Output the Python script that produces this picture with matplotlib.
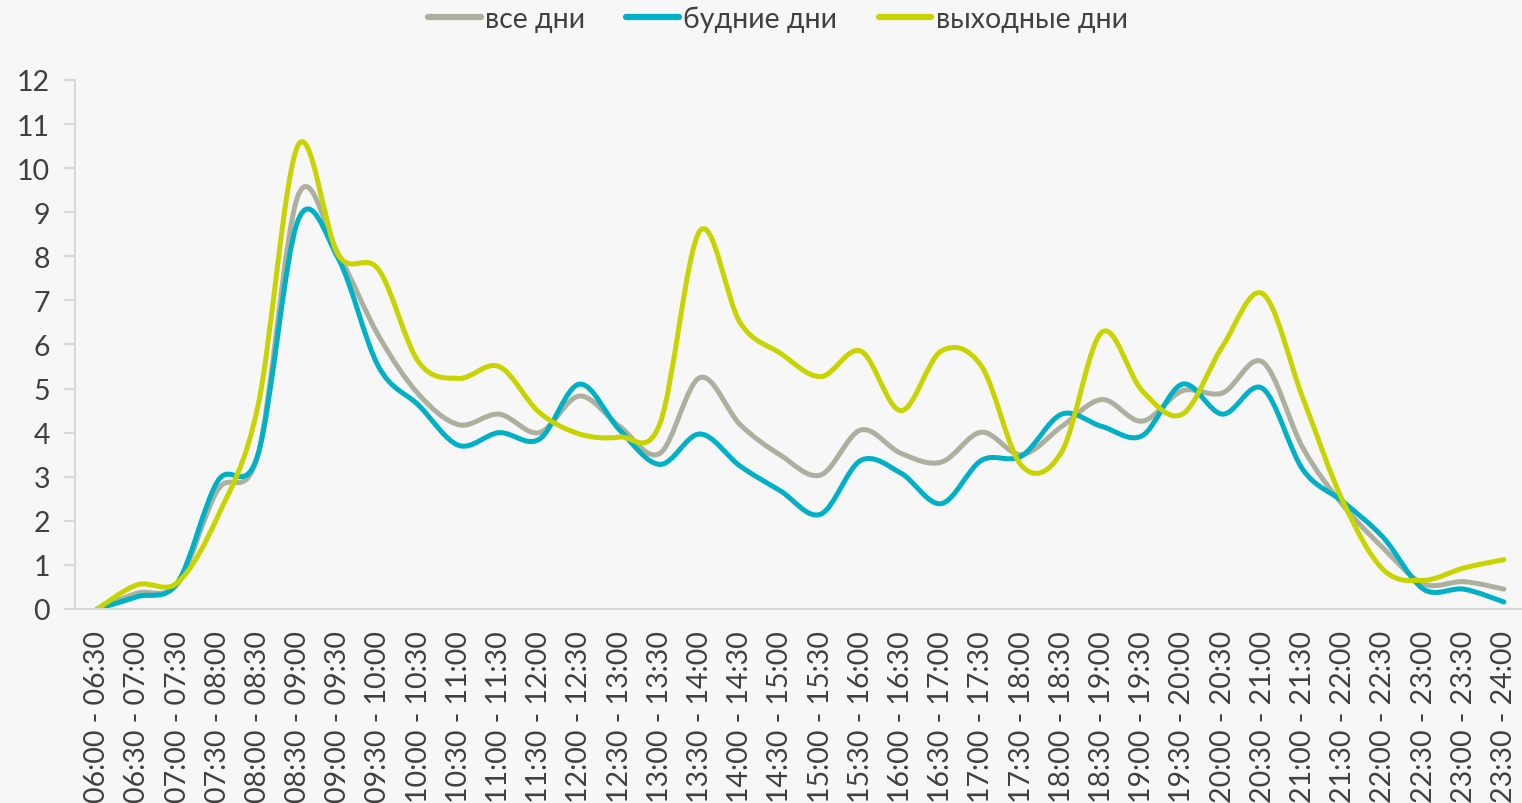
import matplotlib
matplotlib.use("Agg")
import matplotlib.pyplot as plt
from matplotlib.path import Path
from matplotlib.patches import PathPatch
from matplotlib.lines import Line2D

plt.rcParams['font.family'] = ['Lato', 'Open Sans', 'DejaVu Sans']

LABELS = [
    "06:00 - 06:30", "06:30 - 07:00", "07:00 - 07:30", "07:30 - 08:00",
    "08:00 - 08:30", "08:30 - 09:00", "09:00 - 09:30", "09:30 - 10:00",
    "10:00 - 10:30", "10:30 - 11:00", "11:00 - 11:30", "11:30 - 12:00",
    "12:00 - 12:30", "12:30 - 13:00", "13:00 - 13:30", "13:30 - 14:00",
    "14:00 - 14:30", "14:30 - 15:00", "15:00 - 15:30", "15:30 - 16:00",
    "16:00 - 16:30", "16:30 - 17:00", "17:00 - 17:30", "17:30 - 18:00",
    "18:00 - 18:30", "18:30 - 19:00", "19:00 - 19:30", "19:30 - 20:00",
    "20:00 - 20:30", "20:30 - 21:00", "21:00 - 21:30", "21:30 - 22:00",
    "22:00 - 22:30", "22:30 - 23:00", "23:00 - 23:30", "23:30 - 24:00",
]

ALL_DAYS = [0, 0.36, 0.57, 2.7, 3.5, 9.38, 8.05, 6.2, 4.87, 4.18, 4.42, 4.0,
            4.83, 4.14, 3.53, 5.25, 4.18, 3.49, 3.04, 4.06, 3.53, 3.33, 4.01, 3.5,
            4.14, 4.75, 4.26, 4.95, 4.9, 5.6, 3.65, 2.35, 1.38, 0.57, 0.62, 0.45]

WEEKDAYS = [0, 0.28, 0.6, 2.9, 3.5, 8.82, 7.95, 5.5, 4.62, 3.71, 4.0, 3.85,
            5.1, 4.06, 3.28, 3.97, 3.24, 2.68, 2.15, 3.37, 3.08, 2.39, 3.37, 3.47,
            4.42, 4.14, 3.93, 5.1, 4.42, 5.0, 3.16, 2.43, 1.62, 0.45, 0.45, 0.16]

WEEKEND = [0, 0.55, 0.6, 2.1, 4.6, 10.52, 8.03, 7.7, 5.6, 5.23, 5.5, 4.46,
           3.97, 3.9, 4.2, 8.58, 6.49, 5.8, 5.27, 5.85, 4.5, 5.85, 5.51, 3.25,
           3.57, 6.28, 4.95, 4.42, 5.96, 7.15, 4.78, 2.43, 0.89, 0.65, 0.93, 1.12]

SERIES = [
    ("все дни", ALL_DAYS, "#ADAF9F"),
    ("будние дни", WEEKDAYS, "#00B0C6"),
    ("выходные дни", WEEKEND, "#C8D400"),
]

BG = "#F7F7F7"
TEXT = "#404040"
AXIS = "#D9D9D9"


def smooth_path(xs, ys):
    # excel-like smoothed line: bezier segments with catmull-rom control points
    n = len(xs)
    verts = [(xs[0], ys[0])]
    codes = [Path.MOVETO]
    for i in range(n - 1):
        x0, y0 = xs[max(i - 1, 0)], ys[max(i - 1, 0)]
        x1, y1 = xs[i], ys[i]
        x2, y2 = xs[i + 1], ys[i + 1]
        x3, y3 = xs[min(i + 2, n - 1)], ys[min(i + 2, n - 1)]
        c1 = (x1 + (x2 - x0) / 6.0, y1 + (y2 - y0) / 6.0)
        c2 = (x2 - (x3 - x1) / 6.0, y2 - (y3 - y1) / 6.0)
        verts += [c1, c2, (x2, y2)]
        codes += [Path.CURVE4] * 3
    return Path(verts, codes)


fig = plt.figure(figsize=(15.22, 8.04), dpi=100, facecolor=BG)
ax = fig.add_axes([0.0493, 0.2413, 0.9507, 0.658], facecolor=BG)

xs = list(range(len(LABELS)))
handles = []
for name, vals, color in SERIES:
    patch = PathPatch(smooth_path(xs, vals), fill=False, edgecolor=color,
                      linewidth=3.6, capstyle="round", joinstyle="round")
    ax.add_patch(patch)
    handles.append(Line2D([], [], color=color, linewidth=4.5,
                          solid_capstyle="round", label=name))

ax.set_xlim(-0.55, 35.45)
ax.set_ylim(0, 12)
ax.set_yticks(range(0, 13))
ax.set_xticks(xs)
ax.set_xticklabels(LABELS, rotation=90, va="top")

for side in ["top", "right"]:
    ax.spines[side].set_visible(False)
ax.spines["left"].set_color(AXIS)
ax.spines["bottom"].set_color(AXIS)
ax.spines["left"].set_linewidth(1.5)
ax.spines["bottom"].set_linewidth(1.5)

ax.tick_params(axis="y", length=8, width=1.5, color=AXIS, labelsize=20.5,
               labelcolor=TEXT, pad=10)
ax.tick_params(axis="x", length=0, labelsize=20.5, labelcolor=TEXT, pad=15)

fig.legend(handles=handles, loc="center", bbox_to_anchor=(0.511, 0.975),
           ncols=3, frameon=False, fontsize=20.5, handlelength=1.85,
           handletextpad=0.15, columnspacing=1.45, labelcolor=TEXT)

fig.savefig("out.png", dpi=100, facecolor=BG)
